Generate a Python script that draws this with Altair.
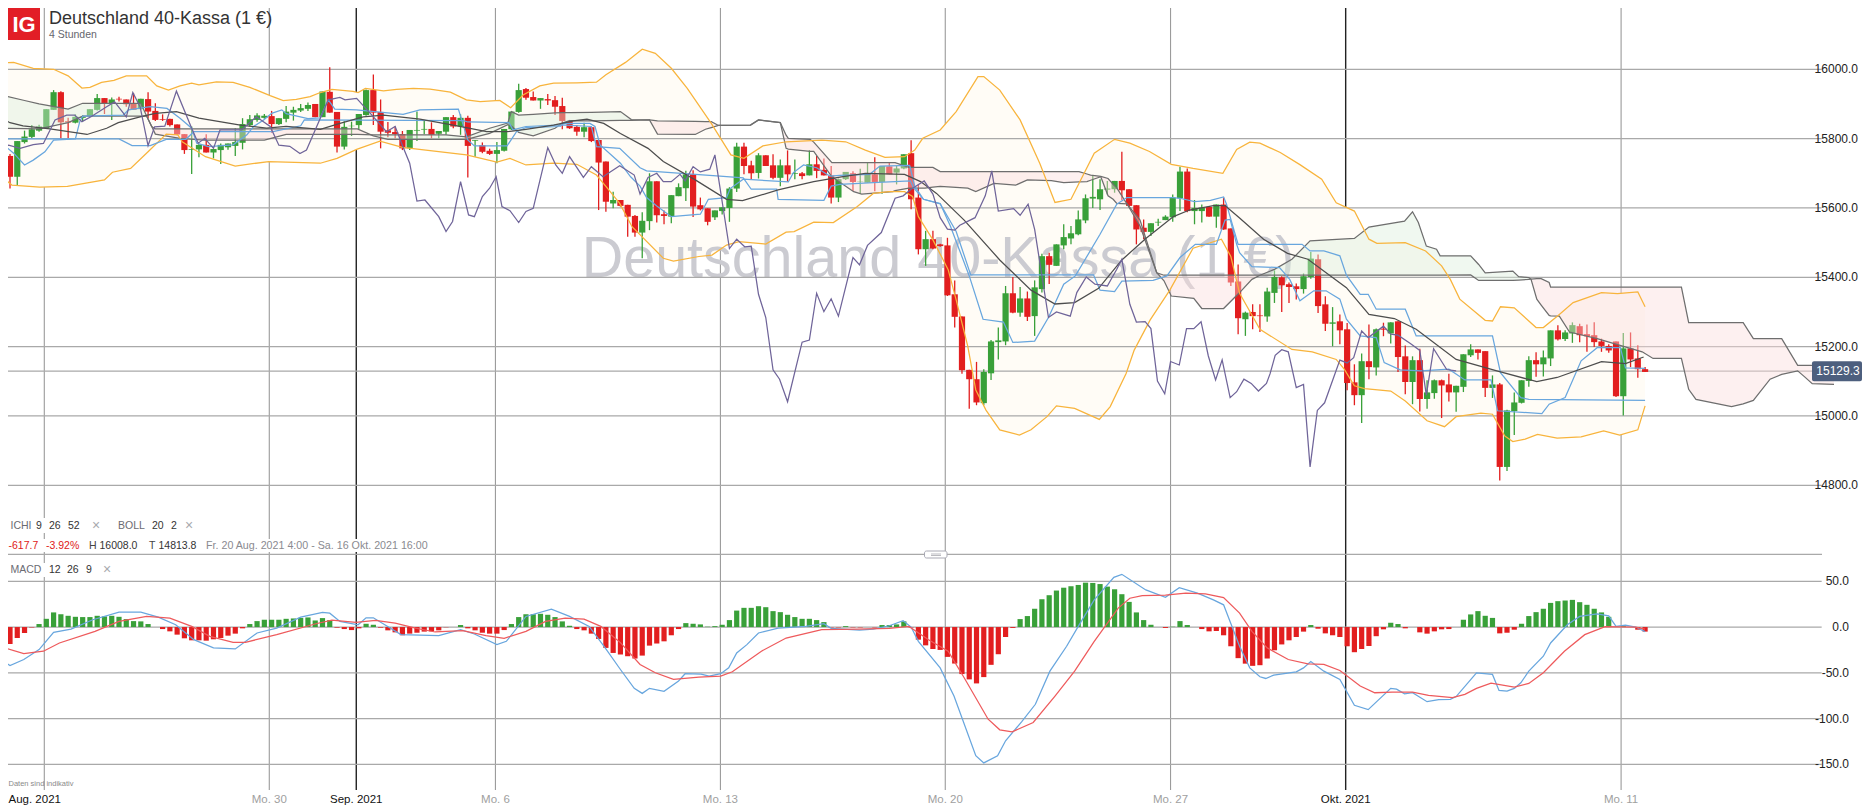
import altair as alt
import pandas as pd

candle_open = [15750,15690,15790,15805,15823,15830,15883,15934,15850,15846,15860,15865,15883,15917,15902,15915,15913,15900,15885,15914,15880,15856,15857,15841,15813,15768,15769,15782,15760,15767,15775,15779,15788,15839,15854,15860,15865,15842,15857,15875,15881,15886,15900,15862,15935,15877,15777,15836,15839,15868,15940,15877,15824,15819,15813,15772,15823,15826,15828,15814,15820,15862,15835,15860,15794,15781,15765,15756,15765,15827,15877,15943,15920,15910,15914,15911,15894,15851,15834,15820,15833,15796,15734,15613,15623,15609,15577,15529,15562,15677,15582,15575,15634,15657,15697,15608,15599,15573,15591,15600,15656,15777,15723,15701,15752,15723,15687,15723,15698,15700,15694,15726,15710,15694,15630,15683,15700,15676,15673,15697,15675,15720,15702,15714,15758,15630,15481,15510,15495,15492,15351,15287,15133,15106,15037,15123,15213,15215,15354,15298,15339,15288,15366,15461,15433,15492,15512,15524,15564,15627,15625,15653,15654,15678,15654,15608,15543,15531,15558,15565,15573,15628,15705,15591,15591,15603,15575,15610,15541,15388,15279,15300,15290,15287,15355,15400,15380,15374,15366,15401,15452,15322,15266,15273,15250,15097,15060,15158,15140,15252,15238,15273,15172,15098,15161,15049,15066,15103,15091,15068,15084,15175,15192,15187,15081,15091,14853,15014,15038,15101,15161,15149,15166,15247,15222,15238,15259,15236,15233,15215,15202,15215,15057,15195,15166,15135]
candle_high = [15756,15793,15823,15839,15840,15885,15940,15937,15860,15870,15868,15885,15929,15917,15919,15921,15913,15931,15915,15934,15902,15870,15857,15841,15813,15835,15785,15813,15770,15786,15786,15830,15859,15868,15873,15871,15880,15859,15894,15892,15900,15904,15900,15936,16006,15877,15850,15849,15871,15942,15985,15913,15848,15835,15822,15825,15878,15852,15847,15822,15862,15868,15870,15866,15796,15789,15771,15790,15828,15878,15958,15946,15936,15917,15929,15923,15918,15854,15839,15846,15833,15796,15734,15647,15623,15609,15580,15588,15700,15677,15593,15637,15671,15707,15709,15630,15599,15593,15602,15660,15788,15788,15736,15758,15752,15755,15740,15766,15740,15704,15767,15750,15743,15721,15685,15704,15706,15713,15731,15746,15721,15731,15721,15755,15795,15668,15534,15534,15497,15514,15391,15287,15133,15156,15135,15219,15255,15375,15401,15372,15359,15391,15468,15471,15495,15553,15548,15593,15639,15692,15683,15678,15678,15762,15654,15608,15567,15556,15569,15579,15639,15719,15714,15623,15610,15603,15610,15630,15541,15437,15301,15322,15322,15370,15420,15403,15385,15382,15411,15473,15466,15345,15314,15293,15268,15149,15180,15264,15252,15269,15270,15273,15203,15172,15194,15103,15105,15105,15122,15087,15178,15207,15192,15187,15117,15095,15018,15068,15103,15172,15184,15189,15247,15262,15247,15270,15266,15264,15270,15223,15207,15215,15239,15241,15204,15141]
candle_low = [15656,15666,15786,15802,15820,15828,15883,15801,15801,15844,15850,15863,15881,15871,15854,15907,15892,15883,15883,15859,15851,15851,15835,15810,15756,15698,15746,15760,15743,15727,15768,15750,15769,15835,15849,15857,15817,15839,15847,15852,15877,15880,15862,15862,15875,15760,15769,15808,15828,15866,15839,15772,15804,15801,15767,15767,15793,15813,15801,15801,15811,15830,15811,15688,15748,15758,15753,15729,15763,15825,15875,15912,15910,15886,15897,15868,15827,15828,15808,15804,15790,15594,15589,15599,15604,15517,15517,15455,15536,15558,15553,15556,15634,15620,15574,15593,15550,15565,15581,15560,15646,15697,15683,15685,15721,15683,15663,15676,15683,15683,15694,15686,15694,15613,15617,15681,15649,15642,15673,15648,15641,15697,15668,15712,15596,15466,15433,15481,15488,15346,15255,15122,15021,15031,15031,15104,15163,15204,15296,15286,15274,15231,15356,15381,15433,15481,15495,15521,15556,15600,15594,15639,15644,15623,15601,15495,15510,15519,15548,15565,15560,15591,15588,15553,15558,15575,15543,15537,15375,15236,15231,15250,15242,15272,15326,15300,15326,15336,15353,15396,15297,15245,15201,15207,15074,15031,14980,15106,15117,15230,15209,15127,15063,15034,15013,15021,15050,14994,15042,15012,15069,15170,15163,15055,15052,14814,14841,14945,15036,15084,15113,15114,15144,15218,15216,15211,15213,15185,15199,15185,15182,15055,15001,15141,15110,15127]
candle_close = [15690,15793,15806,15827,15835,15885,15934,15847,15847,15863,15863,15885,15917,15902,15913,15913,15899,15883,15915,15878,15854,15854,15839,15812,15767,15770,15782,15760,15770,15782,15786,15790,15842,15856,15867,15866,15842,15859,15878,15883,15888,15897,15862,15936,15875,15777,15834,15837,15871,15940,15875,15820,15817,15813,15772,15825,15825,15828,15811,15822,15862,15835,15860,15779,15796,15762,15756,15767,15828,15878,15940,15918,15910,15917,15910,15892,15851,15830,15820,15833,15793,15731,15618,15623,15606,15575,15529,15563,15677,15579,15577,15637,15660,15697,15604,15596,15560,15593,15602,15656,15777,15721,15700,15752,15721,15687,15723,15697,15700,15692,15726,15707,15694,15630,15683,15704,15675,15677,15697,15675,15721,15697,15714,15755,15625,15481,15510,15483,15490,15348,15286,15132,15106,15039,15127,15215,15218,15354,15298,15339,15286,15371,15461,15436,15495,15516,15527,15567,15628,15632,15654,15656,15678,15651,15606,15538,15531,15556,15560,15575,15630,15705,15591,15600,15601,15575,15610,15538,15385,15282,15298,15288,15288,15359,15401,15377,15372,15366,15403,15454,15317,15266,15270,15247,15095,15060,15158,15141,15250,15249,15270,15170,15098,15161,15049,15068,15103,15088,15068,15087,15178,15192,15182,15081,15091,14853,15016,15039,15103,15161,15149,15169,15247,15221,15241,15262,15233,15230,15213,15202,15189,15057,15195,15163,15135,15127]
macd_hist = [-18.5,-12,-6.5,-0.5,3.3,9,16,14,12.3,11.2,10.9,10.9,12.3,11.6,12.3,11.2,8.7,6.5,6.2,3.3,0,-2.2,-4.7,-8.3,-12.3,-14.5,-14.5,-14.9,-13.4,-12,-9.4,-7.2,-1.4,3.3,6.5,8,8,8,9,9.4,10,10.5,7.2,9.8,7.6,-0.7,-2.2,-3.3,-1.4,3.6,2.5,-0.7,-3.6,-5.8,-9,-7.2,-6.2,-5,-4.7,-3.6,-0.3,0,2.2,-1.4,-3.6,-6.2,-7.2,-7.2,-3.3,3.3,10.9,14,14,14.5,13.4,10.9,6.2,1.4,-2.2,-3.6,-7.2,-13,-22.8,-28.3,-30,-31.9,-34.4,-31.2,-20.3,-18,-15.6,-9,-2.2,4.3,3.6,2.9,0.4,1,2.5,7.6,18,21,21,22.8,21.7,17.4,16.3,13.4,10.9,9,9,7.6,5.4,-0.4,-0.4,1,-0.4,-0.4,0,-0.4,2.2,2.2,2.9,6.2,-0.4,-13.8,-20,-24,-25,-32.6,-39.9,-51.4,-57.2,-61.6,-54.7,-41.3,-29.7,-10.9,-1,8.7,12,20,30.4,34.8,39.9,43,44.6,46,48.5,48.2,47,44.2,41.3,35.9,27.5,16,7.6,2.5,0,-1,0.4,6.5,2.2,0,-2.2,-4.7,-4.3,-9,-21,-34,-40,-42.4,-41.7,-34.4,-25.4,-19,-14.5,-10.9,-5,2.2,-1.8,-6.9,-9,-10.9,-21,-27.5,-24,-20.7,-10,-2.5,4.7,3.3,-1.4,0,-5.8,-7.2,-4.7,-2.5,-2.2,0,8,13.8,17.4,12.3,10,-6.9,-6.2,-2.9,3.6,12,16.3,20,26.4,28.3,29,29.7,27.2,24.3,20,16,11.2,0,1,0,-2.9,-5]

boll_upper = [(-1.4,16019),(0.5,16020),(3.2,16003),(6,16000),(8,15981),(9.9,15946),(11,15948),(12.6,15962),(14.3,15968),(16,15981),(18.8,15981),(20.2,15952),(21.8,15940),(23.4,15952),(25,15960),(26,15955),(28.4,15964),(30.7,15962),(33,15948),(35.8,15924),(37.6,15910),(39.4,15913),(41.3,15921),(42.7,15933),(44.3,15942),(47.2,15936),(47.9,15933),(48.9,15945),(51.4,15938),(53.2,15942),(55.5,15945),(57.8,15943),(60.6,15934),(62.8,15912),(64.7,15907),(67.4,15910),(68.9,15889),(70.6,15926),(72.9,15952),(74.8,15960),(78,15961),(80.7,15963),(82,15984),(84.7,16020),(87,16058),(88.8,16046),(91,16003),(93.2,15945),(96.5,15844),(99.2,15753),(101,15743),(103.6,15779),(106.8,15791),(111.7,15796),(115,15791),(117.7,15767),(120.4,15746),(123.1,15748),(124.5,15767),(125.6,15801),(128,15825),(130.2,15878),(133.2,15979),(134,15979),(136.2,15940),(139,15854),(141.7,15729),(143.8,15616),(146,15625),(149.2,15758),(152,15798),(154.1,15787),(156.8,15763),(159.8,15726),(162.8,15714),(166.9,15700),(168.8,15769),(170.6,15790),(172,15787),(174.8,15760),(177.5,15725),(180.5,15683),(182.5,15615),(185,15591),(187,15510),(188.1,15498),(192,15500),(194.8,15476),(197,15433),(198.2,15394),(199.5,15337),(203,15276),(204,15274),(205.1,15315),(207,15312),(210,15255),(211,15255),(213,15289),(215.1,15327),(219,15356),(221.2,15353),(224,15358),(225,15315)]
boll_lower = [(-1.4,15695),(0.26,15666),(4.1,15660),(7.9,15662),(13,15681),(14.1,15703),(16.6,15714),(19,15762),(21.5,15813),(23.1,15811),(23.7,15791),(26.9,15748),(31,15721),(35.6,15734),(42.7,15729),(45,15743),(47.7,15769),(50.9,15793),(54,15775),(62.8,15753),(67,15732),(68.8,15743),(71,15724),(74.8,15729),(78,15726),(80.7,15695),(82,15662),(83.9,15613),(85.6,15546),(89.9,15455),(91.3,15447),(94.8,15460),(96.6,15464),(98.6,15493),(100.3,15503),(104,15496),(106.8,15530),(107.9,15532),(110.6,15559),(113.3,15558),(116.6,15604),(118.8,15642),(121,15647),(123.1,15647),(124.2,15633),(125,15575),(127,15508),(129.1,15422),(130.2,15335),(131.8,15201),(132.9,15075),(134.3,15017),(136.2,14960),(138.9,14945),(140.5,14960),(142.7,14998),(144,15029),(146.5,15022),(149.9,14990),(151.4,15027),(153.6,15123),(154.7,15190),(156.9,15277),(159.6,15363),(162.8,15484),(166.7,15510),(168,15460),(169.2,15354),(172,15250),(176.4,15192),(179.2,15185),(182.5,15163),(183.6,15135),(185,15087),(186.4,15079),(190,15072),(192,15043),(195,14986),(197.4,14969),(199,14998),(202.4,15008),(204,15005),(205.7,14942),(206.8,14926),(208.5,14933),(210.2,14947),(212.9,14936),(216.2,14940),(219.3,14957),(221.5,14945),(224,14960),(225,15029)]
boll_middle = [(-1.4,15862),(0,15846),(1.8,15837),(5.5,15828),(10.6,15812),(13.3,15830),(14.9,15846),(17.9,15863),(20,15873),(22.9,15878),(26,15859),(31.7,15839),(35.3,15830),(38,15835),(40.8,15830),(42.7,15827),(45.4,15844),(48.6,15863),(51.4,15868),(56.4,15856),(61,15839),(65.6,15820),(68.4,15820),(71,15827),(74.8,15839),(77.5,15851),(79.4,15856),(81.7,15844),(84,15815),(87.8,15772),(89.9,15734),(94.3,15681),(98.6,15625),(100.8,15621),(105.7,15652),(110.6,15676),(114.4,15690),(117.7,15700),(123.1,15697),(125.3,15676),(127.5,15642),(131.3,15565),(136.2,15450),(140.5,15363),(143.8,15323),(146.5,15327),(149.8,15368),(153,15450),(156.3,15512),(160.1,15575),(162.3,15594),(165.6,15607),(167.2,15607),(169.2,15571),(172.5,15510),(175.8,15469),(178.6,15452),(183.9,15370),(187,15293),(190.5,15281),(193.5,15250),(199,15163),(204.6,15130),(210.1,15099),(212.9,15111),(219,15157),(222.3,15151),(224.8,15170)]
cloud_rows = [(-2,15930,15830),(2,15910,15829),(4,15900,15828),(8,15885,15846),(10,15902,15865),(18,15902,15865),(18.8,15865,15865),(19.5,15835,15835),(20,15813,15828),(23.4,15801,15828),(26.7,15796,15828),(35,15796,15828),(38,15812,15828),(43,15812,15828),(47.8,15812,15828),(50,15811,15808),(52,15811,15798),(60,15811,15798),(62.8,15805,15798),(66,15830,15815),(68.5,15845,15840),(69,15878,15836),(70,15868,15818),(72,15870,15808),(75,15874,15830),(76,15875,15845),(77,15875,15852),(80,15876,15851),(84,15878,15853),(85.5,15855,15853),(88,15854,15854),(89.1,15851,15813),(94.3,15850,15812),(95.7,15849,15827),(96.5,15849,15832),(97.5,15838,15838),(101.9,15839,15839),(103,15854,15854),(106,15846,15846),(106.8,15810,15772),(107.1,15801,15770),(110.1,15798,15763),(110.6,15790,15763),(113.1,15731,15690),(116.1,15731,15647),(117.2,15731,15640),(121.5,15731,15647),(121.8,15731,15650),(123.7,15717,15657),(125.9,15717,15657),(127,15717,15660),(128,15705,15662),(131.8,15705,15657),(132.9,15705,15647),(135.4,15705,15671),(138.4,15705,15666),(140,15705,15681),(143.3,15705,15679),(145,15705,15673),(147.1,15705,15675),(148.2,15698,15676),(148.7,15695,15680),(150.1,15691,15690),(151.1,15685,15635),(151.8,15668,15625),(152.3,15658,15613),(153.7,15612,15612),(155.5,15565,15548),(157.8,15413,15413),(158.8,15390,15406),(159.8,15346,15406),(162.9,15339,15406),(164,15310,15406),(167,15310,15406),(169.2,15356,15406),(170.9,15394,15406),(172,15406,15406),(174,15423,15406),(176.4,15452,15406),(178.9,15505,15406),(185,15512,15406),(187,15545,15406),(191.9,15562,15406),(193,15589,15406),(193.8,15558,15406),(194.9,15490,15406),(196.3,15481,15406),(196.8,15462,15406),(201,15462,15407),(202.1,15437,15391),(203,15413,15391),(206.8,15418,15391),(207.6,15402,15392),(209,15399,15394),(209.3,15395,15395),(210.1,15337,15396),(210.7,15320,15396),(211.8,15290,15385),(212,15289,15372),(213.2,15288,15372),(214.6,15242,15372),(218.4,15223,15372),(224.6,15185,15372),(226.1,15166,15372),(230,15166,15372),(231,15077,15269),(232,15048,15269),(236.9,15027,15269),(238.5,15035,15269),(239.9,15045,15223),(240.2,15053,15223),(242.2,15106,15223),(243.8,15120,15223),(246,15130,15146),(247,15112,15146),(248,15093,15146),(251,15091,15146)]
cloud_sections = [(-2,19.5,"green"),(19.5,50,"pink"),(50,88,"green"),(88,172,"pink"),(172,209.3,"green"),(209.3,251,"pink")]
blue_one = [(-2,15799),(15,15799),(16.8,15780),(19.3,15780),(21.5,15798),(24.2,15798),(25.3,15820),(36.2,15820),(40,15837),(40.5,15854),(62.4,15852),(63,15848),(68.7,15846),(69.2,15825),(71,15835),(76,15840),(80,15835),(80.7,15777),(83.9,15772),(86.7,15716),(87.6,15707),(97.7,15692),(100.9,15687),(102,15654),(105.5,15654),(105.7,15625),(112,15622),(113,15663),(114.2,15668),(118.8,15673),(123.9,15678),(124.3,15659),(125.7,15625),(128,15613),(129.4,15548),(130.7,15476),(132,15404),(133.9,15279),(136.7,15271),(138,15212),(141,15216),(142.9,15284),(145,15380),(146.6,15404),(150,15524),(152.3,15611),(153.7,15630),(160,15630),(161,15628),(163,15618),(165.2,15622),(167,15632),(167.4,15611),(169,15495),(177.8,15495),(178.9,15476),(180.8,15476),(183,15462),(183.9,15406),(185.8,15351),(186.9,15351),(188,15308),(192,15308),(193.5,15231),(204,15231),(205.1,15125),(207.9,15053),(209,15048),(225,15045)]
blue_two = [(-1.4,15791),(0.5,15758),(2,15724),(3.2,15738),(4.8,15762),(6,15796),(9,15799),(9.6,15849),(10,15865),(15.6,15868),(16.3,15883),(19.3,15892),(21.6,15887),(23.4,15859),(25,15830),(25.7,15787),(27.3,15777),(30.7,15782),(32.6,15811),(33.5,15835),(34.9,15854),(36,15873),(37.4,15883),(38,15872),(41,15858),(42.7,15860),(43.8,15912),(44.7,15885),(47.7,15883),(54.1,15870),(56.4,15883),(61.7,15885),(63,15796),(63.9,15779),(68.4,15779),(69.7,15820),(71,15832),(75.7,15835),(76.2,15844),(79.8,15844),(80.5,15835),(81.2,15782),(84,15729),(85.4,15690),(86.7,15663),(87.6,15630),(89,15606),(91,15575),(95,15582),(96.1,15625),(98.6,15630),(99.1,15656),(100.9,15683),(107.1,15675),(107.8,15702),(109.2,15724),(111,15716),(112.8,15692),(114.2,15694),(118.3,15697),(119.7,15721),(123.8,15723),(124.5,15663),(125.7,15625),(128,15612),(130.2,15532),(132.2,15407),(149.1,15407),(150,15363),(152,15359),(153,15389),(157.3,15391),(159.2,15404),(161,15457),(163.1,15495),(166,15495),(167.2,15565),(167.9,15567),(168.8,15495),(169.2,15471),(170.9,15431),(174.7,15428),(176.1,15394),(177.5,15332),(179.4,15361),(181.1,15361),(183,15337),(183.9,15279),(185.8,15231),(188,15226),(189.1,15154),(191.3,15133),(194.1,15130),(198,15135),(200.2,15104),(203.8,15104),(204.7,15015),(210.8,15007),(211.8,15034),(214,15053),(216.2,15159),(218.4,15197),(221.6,15197),(222.3,15139),(225,15137)]
chikou = [(-1.4,15772),(-0.2,15781),(1.4,15772),(3.2,15783),(4.6,15786),(6.2,15854),(7.8,15868),(8.9,15868),(9.9,15849),(11.2,15864),(13.3,15892),(14.4,15906),(16,15863),(16.9,15933),(17.9,15892),(19,15780),(19.9,15834),(21.3,15836),(22.9,15937),(25,15830),(25.9,15787),(26.8,15801),(28,15772),(28.9,15825),(31.9,15825),(32.8,15843),(33.9,15863),(35.8,15835),(37,15781),(38.5,15778),(39.9,15757),(40.8,15767),(42.7,15859),(43.8,15912),(45.4,15919),(46.1,15912),(47.7,15916),(49.8,15868),(51.8,15820),(53,15835),(54.1,15775),(55,15729),(56,15620),(57.1,15623),(59,15575),(60,15532),(60.9,15561),(62,15676),(63.1,15580),(63.9,15575),(65,15633),(66,15657),(66.9,15690),(67.7,15604),(68.8,15592),(70,15558),(71,15590),(72,15599),(74,15774),(75.1,15724),(76,15700),(77,15748),(78.9,15688),(80,15719),(81.6,15690),(83.9,15722),(85.9,15695),(86.7,15640),(87.8,15688),(89,15700),(89.9,15676),(91,15676),(92.2,15697),(92.9,15678),(94,15719),(95,15704),(96.3,15712),(97,15753),(99,15483),(100,15510),(101.1,15488),(102,15490),(103,15351),(104,15284),(105,15133),(105.9,15106),(107,15041),(109,15213),(110,15219),(111,15354),(112,15301),(113,15338),(114,15288),(116,15457),(116.9,15436),(118,15492),(119.9,15529),(121.8,15628),(122.9,15635),(124,15654),(125.8,15678),(127,15640),(128,15572),(129,15539),(130,15536),(130.7,15550),(132.8,15572),(134.2,15635),(135.1,15707),(136,15591),(138.1,15598),(139,15579),(140.1,15611),(141,15538),(142.9,15284),(144,15300),(145.9,15288),(146.8,15356),(148.1,15401),(149.3,15380),(151,15375),(152.3,15423),(153,15452),(154.1,15322),(155,15271),(156.2,15272),(157,15252),(157.9,15101),(158.9,15064),(159.7,15157),(160.9,15147),(161.9,15252),(162.9,15252),(163.9,15272),(164.9,15173),(165.9,15104),(166.8,15162),(167.9,15053),(168.8,15070),(169.8,15106),(170.8,15094),(171.8,15072),(172.9,15094),(173.4,15122),(174.1,15175),(175,15191),(175.9,15185),(177,15082),(178,15091),(178.9,14853),(179.9,15016),(180.9,15038),(183,15161),(184,15153),(184.9,15168),(186,15245),(186.9,15226),(189,15259),(190,15236),(191,15233),(192.7,15209),(194,15189),(194.9,15060),(195.9,15194),(197.7,15134),(199,15130)]
macd_line = [(-1.4,-35.5),(0,-42),(1.9,-35.5),(4,-24.6),(6,-5.8),(8.4,-2.2),(11.4,8),(15,16.3),(18,16.3),(20.4,10.9),(22.8,2.5),(25.3,-13.8),(28,-22.8),(31,-23.9),(34,-6.5),(36.7,-1.1),(40,10.9),(43,15.9),(44,15.2),(45.4,6.2),(47.9,2.5),(49,10.1),(50,10.1),(53.8,-8.3),(59,-9.4),(62,-2.9),(63.9,-7.6),(67,-19.2),(68.3,-15.6),(71,11.6),(74.5,19.6),(77,11.6),(79.7,0.7),(81.9,-22.8),(84,-46.4),(85.9,-67),(87,-72.5),(88,-67),(90,-70.3),(92,-59),(92.9,-51),(95.1,-51.4),(96.2,-53.6),(97.8,-51),(98.9,-44.6),(100,-28.3),(101.4,-19.2),(103,-6.5),(105.7,-1.1),(109.5,0.7),(112,3.6),(113,-1.4),(116.9,-3.3),(118.8,-2.2),(121,1.4),(122.9,6.9),(124,0),(125,-15.6),(128,-44.6),(129.9,-75.4),(132.9,-140.6),(134,-148.5),(135.9,-140.6),(137,-124.3),(139.2,-103.6),(141.1,-84.4),(143.1,-48.2),(145.4,-21),(147,0.7),(149.2,29.7),(151.9,54.3),(153,57.6),(156.3,40.6),(159,32.6),(160.9,43),(163.4,37),(165.6,29.7),(167,24.3),(169.2,-21),(170.6,-44.6),(172,-54.3),(172.8,-56.2),(173.9,-52.5),(177,-48.9),(178,-44.6),(179,-37.7),(180.8,-48.2),(183,-57.2),(185,-85.5),(186.9,-90.2),(190,-67),(190.8,-67.8),(191.9,-72.9),(193,-71.8),(195,-81.6),(196.6,-79.3),(198.2,-79),(199,-76),(201.8,-50),(204,-51.8),(204.9,-69.2),(206,-69.9),(207,-67),(207.9,-60.9),(209,-48.2),(211,-31.9),(212,-17.4),(214.3,2.5),(216,11.6),(218.4,14.5),(220,12.3),(221,0.7),(222.3,2.2),(223.7,0),(225,-5)]
macd_signal = [(-1.4,-18),(-0.3,-23.9),(1.9,-29),(4.6,-26.4),(6.8,-17.4),(11.7,-4.7),(15,6.2),(18.8,11.6),(22,9.8),(25,0.7),(27.5,-10.1),(30.7,-16.7),(32.4,-16.7),(36.7,-8.3),(42.1,3.6),(44.3,7.6),(47.6,5),(50.3,7.2),(53,4.3),(55.8,-1.1),(58.5,-5.4),(62.3,-4),(65.5,-9.4),(68,-12.3),(71,-4.7),(73.7,6.2),(76.4,9.8),(79,8.7),(81.3,0.7),(84,-17),(86.7,-40.9),(88.8,-50),(91.3,-57.2),(94.8,-54.7),(97.8,-53.6),(99.4,-48.9),(103.4,-26.4),(106.8,-12),(111.7,-2.9),(116.6,-2.2),(121,-1.4),(123.7,0.7),(126.4,-13.8),(129.1,-26.4),(131.3,-55.4),(134.6,-100.7),(136.2,-112.3),(137.9,-114.5),(140.8,-104.3),(143.8,-75.4),(146.5,-48.2),(149.2,-15.6),(152.5,20.7),(154.1,31.5),(155.8,34.4),(159,34.8),(161.8,37),(164.5,36.2),(167,32.2),(169.2,15.2),(170.9,-4.7),(173,-22.8),(175.9,-35.5),(178.6,-40.2),(180.8,-40.9),(183,-47.5),(185.8,-64.5),(187.8,-71.8),(190.2,-71),(193,-71),(195.2,-74.6),(198.5,-77.2),(200.2,-73.5),(201.8,-67),(203.8,-61.2),(207,-65.6),(209,-61.6),(211,-50),(213.9,-26.4),(216.7,-8.3),(219.5,0.4),(223.7,0),(225,-2.2)]

price_ticks = [16000,15800,15600,15400,15200,15000,14800]
macd_ticks = [50,0,-50,-100,-150]
last_price = 15129.3
week_pos = [35.68,66.8,97.76,128.7,159.7,221.7]
week_labels = ["Mo. 30","Mo. 6","Mo. 13","Mo. 20","Mo. 27","Mo. 11"]
month_pos = [47.65,183.8]
month_labels = ["Sep. 2021","Okt. 2021"]
aug_pos = 4.72

WIDTH, HEIGHT = 1854, 797
FONT = "Liberation Sans"
XS = alt.Scale(domain=[-0.275, 254.85], nice=False, zero=False, padding=0)
PS = alt.Scale(domain=[16000, 14800], range=[61.3, 477.3], nice=False, zero=False)
MS = alt.Scale(domain=[50, -150], range=[573.3, 756.3], nice=False, zero=False)
GRID_END = 249.3
GRID = "#a9a9a9"
GREEN, RED = "#39a039", "#e21e1f"
BLUE, ORANGE = "#68a6de", "#f8b43c"

X = alt.X("k:Q", scale=XS, axis=None)
PY = alt.Y("p:Q", scale=PS, axis=None)
MY = alt.Y("p:Q", scale=MS, axis=None)

def series(rows):
    return pd.DataFrame(rows, columns=["k", "p"])

def label(text, x, y, size=11, color="#333333", align="left", weight="normal"):
    return alt.Chart(pd.DataFrame({"t": [text]})).mark_text(
        font=FONT, fontSize=size, color=color, align=align, baseline="middle", fontWeight=weight
    ).encode(x=alt.value(x - 8), y=alt.value(y - 8), text="t:N")

def box(x1, x2, y1, y2, fill="#ffffff", **kw):
    return alt.Chart(pd.DataFrame({"a": [1]})).mark_rect(fill=fill, **kw).encode(
        x=alt.value(x1 - 8), x2=alt.value(x2 - 8), y=alt.value(y1 - 8), y2=alt.value(y2 - 8))

# price panel -------------------------------------------------------------
band_rows = boll_upper + boll_lower[::-1]
band_df = series(band_rows)
band_df["o"] = range(len(band_df))
band_fill = alt.Chart(band_df).mark_line(fill="#fffcf6", strokeOpacity=0).encode(X, PY, order="o:Q")

watermark = alt.Chart(pd.DataFrame({"t": ["Deutschland 40-Kassa (1 €)"]})).mark_text(
    font=FONT, fontSize=57.5, color="#cbcbd1", align="center", baseline="alphabetic"
).encode(x=alt.value(938 - 8), y=alt.value(277 - 8), text="t:N")

ph = pd.DataFrame({"p": price_ticks + [last_price]})
ph["k0"] = -0.275
ph["k1"] = GRID_END
price_grid = alt.Chart(ph).mark_rule(color=GRID, strokeWidth=1.3).encode(
    x=alt.X("k0:Q", scale=XS, axis=None), x2="k1:Q", y=PY)

candles = pd.DataFrame({"o": candle_open, "h": candle_high, "l": candle_low, "c": candle_close})
candles["k"] = range(len(candles))
candles["up"] = candles.c >= candles.o
cy = alt.Y("l:Q", scale=PS, axis=None)
body_y = alt.Y("o:Q", scale=PS, axis=None)
def candle_layers(flag, col):
    d = candles[candles.up == flag]
    return [
        alt.Chart(d).mark_rule(color=col, strokeWidth=1.3).encode(X, cy, y2="h:Q"),
        alt.Chart(d).mark_rule(color=col, strokeWidth=6.2).encode(X, body_y, y2="c:Q"),
    ]

cloud = pd.DataFrame(cloud_rows, columns=["k", "a", "b"])
cloud_layers = []
for i, (start, end, kind) in enumerate(cloud_sections):
    d = cloud[(cloud.k >= start) & (cloud.k <= end)]
    fill = "#dcefdc" if kind == "green" else "#fbdcdc"
    cloud_layers.append(
        alt.Chart(d).mark_area(color=fill, opacity=0.42, interpolate="linear").encode(
            X, alt.Y("a:Q", scale=PS, axis=None), y2="b:Q"))

def pline(rows, color, width=1.25):
    return alt.Chart(series(rows)).mark_line(color=color, strokeWidth=width, interpolate="linear").encode(X, PY)

cloud_a = [(k, a) for k, a, b in cloud_rows]
cloud_b = [(k, b) for k, a, b in cloud_rows]

tick_df = pd.DataFrame({"p": price_ticks})
tick_df["t"] = tick_df.p.map(lambda v: f"{v:.1f}")
price_labels = alt.Chart(tick_df).mark_text(font=FONT, fontSize=12, color="#222222", align="right", baseline="middle").encode(
    x=alt.value(1858 - 8), y=PY, text="t:N")
tag = alt.Chart(pd.DataFrame({"p": [last_price], "t": [f"{last_price:.1f}"]}))
tag_rect = tag.mark_rect(fill="#4d5f7e", cornerRadius=2, height=20, width=50).encode(x=alt.value(1837 - 8), y=PY)
tag_text = tag.mark_text(font=FONT, fontSize=12, color="#ffffff", align="center", baseline="middle").encode(
    x=alt.value(1838 - 8), y=PY, text="t:N")

price_panel = alt.layer(
    band_fill, watermark, price_grid,
    *candle_layers(True, GREEN), *candle_layers(False, RED),
    *cloud_layers,
    pline(cloud_a, "#6e6e6e"), pline(cloud_b, "#6e6e6e"),
    pline(boll_upper, ORANGE), pline(boll_lower, ORANGE),
    pline(blue_one, BLUE), pline(blue_two, BLUE),
    pline(boll_middle, "#4d4d4d"),
    pline(chikou, "#6f6499"),
    tag_rect, tag_text, price_labels,
)

# macd panel --------------------------------------------------------------
mh = pd.DataFrame({"p": macd_ticks})
mh["k0"] = -0.275
mh["k1"] = GRID_END
macd_grid = alt.Chart(mh).mark_rule(color=GRID, strokeWidth=1.3).encode(
    x=alt.X("k0:Q", scale=XS, axis=None), x2="k1:Q", y=MY)
hist = pd.DataFrame({"p": macd_hist})
hist["k"] = range(len(hist))
hist["z"] = 0
def hist_layer(d, col):
    return alt.Chart(d).mark_rule(color=col, strokeWidth=5.2).encode(X, MY, y2="z:Q")
macd_df = pd.DataFrame({"p": macd_ticks})
macd_df["t"] = macd_df.p.map(lambda v: f"{v:.1f}")
macd_labels = alt.Chart(macd_df).mark_text(font=FONT, fontSize=12, color="#222222", align="right", baseline="middle").encode(
    x=alt.value(1849 - 8), y=MY, text="t:N")
def mline(rows, color):
    return alt.Chart(series(rows)).mark_line(color=color, strokeWidth=1.25, interpolate="linear").encode(X, MY)
macd_panel = alt.layer(
    macd_grid,
    hist_layer(hist[hist.p >= 0], GREEN), hist_layer(hist[hist.p < 0], RED),
    mline(macd_line, BLUE), mline(macd_signal, "#ee5a5c"),
    macd_labels,
)

# verticals / time axis ---------------------------------------------------
def vrules(positions, color, width):
    d = pd.DataFrame({"k": positions})
    return alt.Chart(d).mark_rule(color=color, strokeWidth=width).encode(
        X, y=alt.value(0), y2=alt.value(790 - 8))
top_line = box(0, 1822, 553.7, 555, fill=GRID)

def time_labels(positions, texts, color):
    d = pd.DataFrame({"k": positions, "t": texts})
    return alt.Chart(d).mark_text(font=FONT, fontSize=11.5, color=color, align="center", baseline="middle").encode(
        X, y=alt.value(800 - 8), text="t:N")

texts = [
    box(8, 195, 518, 533), box(8, 428, 539, 552), box(8, 115, 563, 577),
    label("ICHI", 10.5, 526, 10.5, "#6b6b73"), label("9", 36, 526, 10.5), label("26", 49, 526, 10.5), label("52", 68, 526, 10.5),
    label("×", 92, 525.5, 14, "#a9a9ae"), label("BOLL", 118, 526, 10.5, "#6b6b73"), label("20", 152, 526, 10.5), label("2", 171, 526, 10.5),
    label("×", 185, 525.5, 14, "#a9a9ae"),
    label("-617.7", 8.5, 546, 10.5, "#e02020"), label("-3.92%", 46, 546, 10.5, "#e02020"),
    label("H", 89, 546, 10.5, "#444444"), label("16008.0", 99.5, 546, 10.5), label("T", 149, 546, 10.5, "#444444"), label("14813.8", 158.5, 546, 10.5),
    label("Fr. 20 Aug. 2021 4:00 - Sa. 16 Okt. 2021 16:00", 206, 546, 10.7, "#8a8a90"),
    label("MACD", 10.5, 570, 10.5, "#6b6b73"), label("12", 49, 570, 10.5), label("26", 67, 570, 10.5), label("9", 86, 570, 10.5),
    label("×", 103, 569.5, 14, "#a9a9ae"),
    label("Daten sind indikativ", 8.5, 784, 7.5, "#8a8a8a"),
    label("Aug. 2021", 8.5, 800, 11.5, "#111111"),
    box(8, 40, 8, 40, fill="#e21e26"),
    label("IG", 24, 24.5, 22, "#ffffff", "center", "bold"),
    label("Deutschland 40-Kassa (1 €)", 49, 18.5, 18, "#333333"),
    label("4 Stunden", 49, 34.5, 10.5, "#66666e"),
    box(924.5, 947, 551, 558, fill="#ffffff", stroke="#a9a9b4", strokeWidth=1, cornerRadius=2),
    box(931, 941, 553.7, 554.3, fill="#8e8e96"), box(931, 941, 555.4, 556, fill="#8e8e96"),
]

chart = alt.layer(
    vrules(week_pos + [aug_pos], "#9b9b9b", 1.1),
    vrules(month_pos, "#222222", 1.4),
    top_line,
    price_panel,
    macd_panel,
    time_labels(week_pos, week_labels, "#a0a0a0"),
    time_labels(month_pos, month_labels, "#111111"),
    *texts,
).resolve_scale(y="independent").properties(
    width=WIDTH, height=HEIGHT, autosize=alt.AutoSizeParams(type="none"), padding=0,
    background="#ffffff"
).configure_view(stroke=None)

chart.save("out.html", embed_options={"renderer": "svg", "actions": False})
